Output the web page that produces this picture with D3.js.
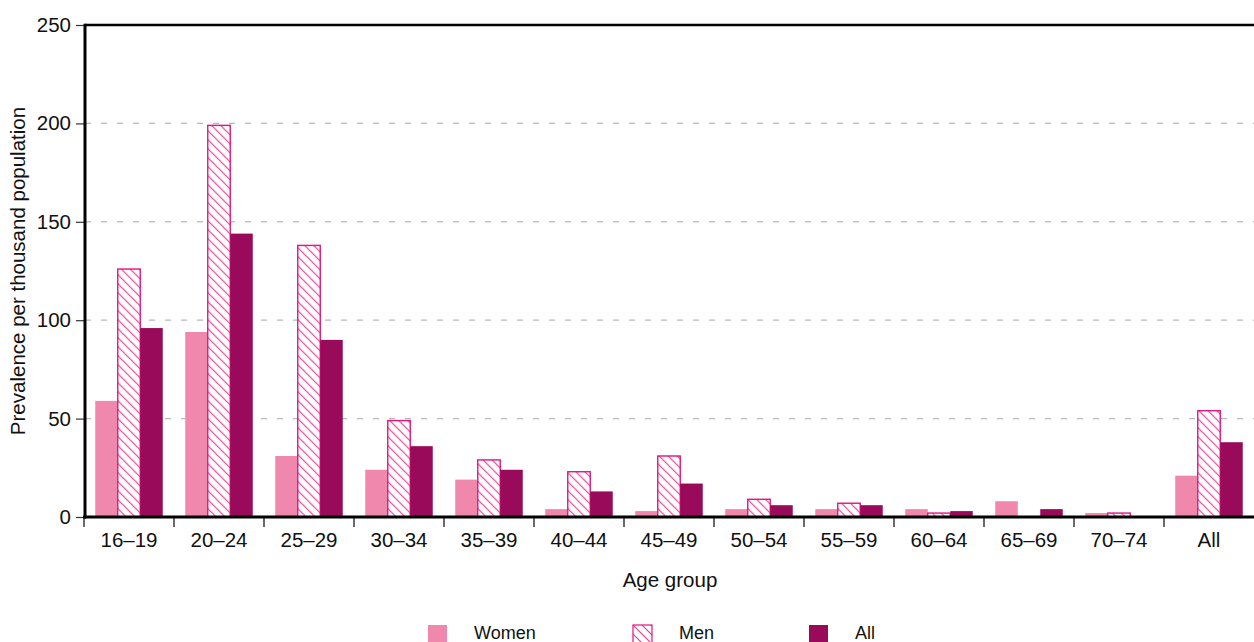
<!DOCTYPE html>
<html>
<head>
<meta charset="utf-8">
<script src="https://cdn.jsdelivr.net/npm/d3@7"></script>
<style>
  html, body { margin: 0; padding: 0; background: #fff; }
  svg { display: block; font-family: "Liberation Sans", Arial, Helvetica, sans-serif; }
</style>
</head>
<body>
<svg id="chart" width="1254" height="642"></svg>
<script>
const categories = ["16–19","20–24","25–29","30–34","35–39","40–44","45–49","50–54","55–59","60–64","65–69","70–74","All"];
const seriesNames = ["Women","Men","All"];
const women = [59, 94, 31, 24, 19, 4, 3, 4, 4, 4, 8, 2, 21];
const men   = [126, 199, 138, 49, 29, 23, 31, 9, 7, 2, 0, 2, 54];
const all   = [96, 144, 90, 36, 24, 13, 17, 6, 6, 3, 4, 0.5, 38];
const yTicks = [0, 50, 100, 150, 200, 250];
const yTitle = "Prevalence per thousand population";
const xTitle = "Age group";

(function () {
const colors = { Women: "#F087AD", Men: "#E2157F", All: "#990A5A" };
const values = { Women: women, Men: men, All: all };

const svg = d3.select("#chart");
const pL = 85, pR = 1254, pT = 25, pB = 517;

const defs = svg.append("defs");
const pat = defs.append("pattern")
  .attr("id", "hatch").attr("patternUnits", "userSpaceOnUse")
  .attr("width", 9).attr("height", 9);
pat.append("rect").attr("width", 9).attr("height", 9).attr("fill", "#fff");
pat.append("path").attr("d", "M-1,-1 L10,10 M-1,8 L1,10 M8,-1 L10,1")
  .attr("stroke", colors.Men).attr("stroke-width", 1.1).attr("stroke-opacity", 0.85);

const x = d3.scaleBand().domain(categories).range([84, pR]).paddingInner(0.25).paddingOuter(0.125);
const xs = d3.scaleBand().domain(seriesNames).range([0, x.bandwidth()]).padding(0);
const y = d3.scaleLinear().domain([0, 250]).range([pB, pT]);

// gridlines
svg.append("g").selectAll("line").data(yTicks.filter(t => t > 0 && t < 250)).join("line")
  .attr("x1", pL).attr("x2", pR).attr("y1", d => y(d)).attr("y2", d => y(d))
  .attr("stroke", "#b8b8b8").attr("stroke-width", 1.3).attr("stroke-dasharray", "6,10");

// top frame line at 250
svg.append("line").attr("x1", pL).attr("x2", pR).attr("y1", y(250)).attr("y2", y(250))
  .attr("stroke", "#000").attr("stroke-width", 2.5);

// bars
const groups = svg.append("g").selectAll("g").data(categories).join("g")
  .attr("transform", d => `translate(${x(d)},0)`);
seriesNames.forEach(s => {
  groups.filter((d, i) => values[s][i] > 0).append("rect")
    .attr("x", xs(s)).attr("width", xs.bandwidth())
    .attr("y", d => y(values[s][categories.indexOf(d)]))
    .attr("height", d => pB - y(values[s][categories.indexOf(d)]))
    .attr("fill", s === "Men" ? "url(#hatch)" : colors[s])
    .attr("stroke", s === "Men" ? colors.Men : "none")
    .attr("stroke-width", s === "Men" ? 1.4 : 0);
});

// y axis
const yAxis = d3.axisLeft(y).tickValues(yTicks).tickSize(9).tickPadding(5);
const yg = svg.append("g").attr("transform", `translate(${pL},0)`).call(yAxis);
yg.select(".domain").remove();
yg.selectAll(".tick line").attr("stroke", "#333").attr("stroke-width", 1.2);
yg.selectAll(".tick text").attr("font-size", 20.5).attr("fill", "#111").attr("font-family", "Liberation Sans, Arial, sans-serif");
svg.append("line").attr("x1", pL).attr("x2", pL).attr("y1", pT - 1.2).attr("y2", pB + 1.5)
  .attr("stroke", "#000").attr("stroke-width", 3);

// x axis ticks at band boundaries
const bounds = categories.map(c => x(c) - x.step() * 0.125);
svg.append("g").selectAll("line").data(bounds).join("line")
  .attr("x1", d => d).attr("x2", d => d).attr("y1", pB).attr("y2", pB + 10)
  .attr("stroke", "#444").attr("stroke-width", 1.6);
svg.append("line").attr("x1", 83).attr("x2", pR).attr("y1", pB).attr("y2", pB)
  .attr("stroke", "#000").attr("stroke-width", 3);
svg.append("g").selectAll("text").data(categories).join("text")
  .attr("x", d => x(d) + x.bandwidth() / 2).attr("y", 547)
  .attr("text-anchor", "middle").attr("font-size", 20.5).attr("fill", "#111")
  .text(d => d);

// titles
svg.append("text").attr("x", 670).attr("y", 587).attr("text-anchor", "middle")
  .attr("font-size", 20.5).attr("fill", "#111").text(xTitle);
svg.append("text").attr("transform", `translate(25,${(pT + pB) / 2}) rotate(-90)`)
  .attr("text-anchor", "middle").attr("font-size", 20.5).attr("fill", "#111").text(yTitle);

// legend
const legendX = [428, 633, 809];
const lg = svg.append("g").selectAll("g").data(seriesNames).join("g")
  .attr("transform", (d, i) => `translate(${legendX[i]},625)`);
lg.append("rect").attr("width", 19).attr("height", 19)
  .attr("fill", d => d === "Men" ? "url(#hatch)" : colors[d])
  .attr("stroke", d => d === "Men" ? colors.Men : "none").attr("stroke-width", 1.2);
lg.append("text").attr("x", 46).attr("y", 14).attr("font-size", 18).attr("fill", "#111").text(d => d);
})();
</script>
</body>
</html>
